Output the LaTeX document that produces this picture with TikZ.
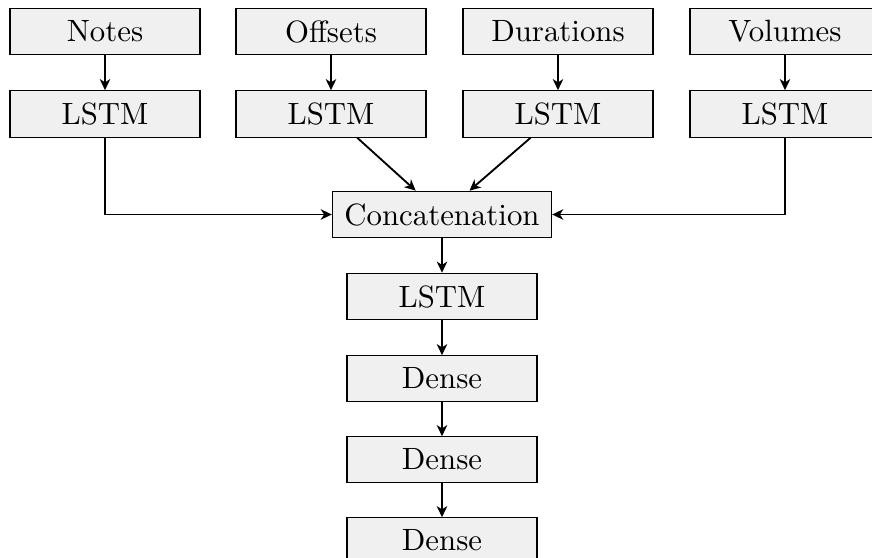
\documentclass[tikz,border=0pt]{standalone}
\usetikzlibrary{arrows.meta}
\definecolor{boxfill}{RGB}{240,240,240}
\begin{document}
\begin{tikzpicture}[x=0.3247pt,y=-0.3247pt,
  blk/.style={draw, line width=0.4pt, fill=boxfill, minimum width=61.7pt, minimum height=14pt, inner sep=3.9pt, font=\fontsize{10}{12}\selectfont},
  conn/.style={-{Stealth[length=3.6pt,width=3.4pt,inset=1.1pt]}, line width=0.6pt}]
\useasboundingbox (0,0) rectangle (872,558);
\clip (0,0) rectangle (872,558);
\node[blk] (notes) at (105,31.5) {Notes};
\node[blk] (offsets) at (331,31.5) {Offsets};
\node[blk] (durations) at (558,31.5) {Durations};
\node[blk] (volumes) at (785,31.5) {Volumes};
\node[blk] (l1) at (105,114) {LSTM};
\node[blk] (l2) at (331,114) {LSTM};
\node[blk] (l3) at (558,114) {LSTM};
\node[blk] (l4) at (785,114) {LSTM};
\node[blk, minimum width=0pt] (concat) at (442,214.5) {Concatenation};
\node[blk] (l5) at (442,296.5) {LSTM};
\node[blk] (d1) at (442,378.5) {Dense};
\node[blk] (d2) at (442,459.5) {Dense};
\node[blk] (d3) at (442,540.5) {Dense};
\draw[conn] (notes) -- (l1);
\draw[conn] (offsets) -- (l2);
\draw[conn] (durations) -- (l3);
\draw[conn] (volumes) -- (l4);
\draw[conn] (l1.south) |- (concat.west);
\draw[conn] (l4.south) |- (concat.east);
\draw[conn] (l2) -- (concat);
\draw[conn] (l3) -- (concat);
\draw[conn] (concat) -- (l5);
\draw[conn] (l5) -- (d1);
\draw[conn] (d1) -- (d2);
\draw[conn] (d2) -- (d3);
\end{tikzpicture}
\end{document}
